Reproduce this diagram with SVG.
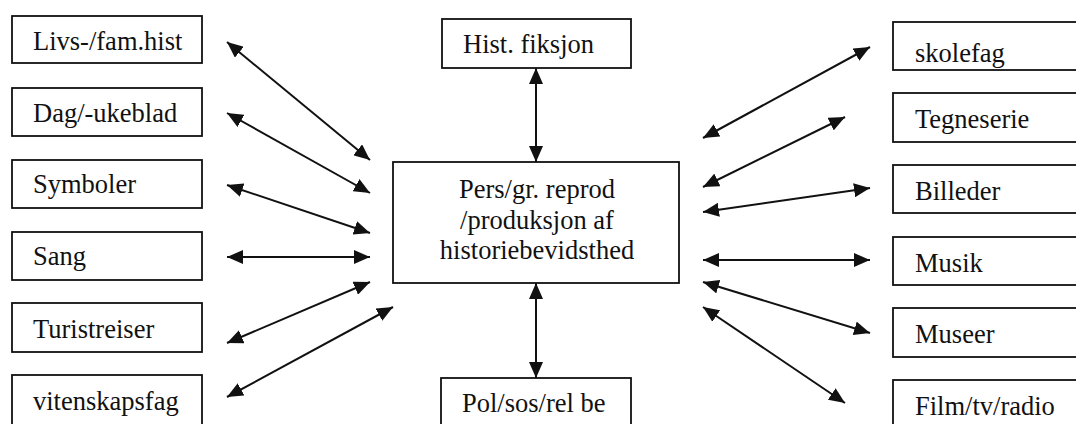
<svg xmlns="http://www.w3.org/2000/svg" width="1076" height="424" viewBox="0 0 1076 424">
<style>
.box{fill:#fff;stroke:#111;stroke-width:1.8}
.t{font-family:"Liberation Serif","Times New Roman",serif;font-size:26.5px;fill:#111}
.c{stroke:#111;stroke-width:2;fill:none;marker-start:url(#ah);marker-end:url(#ah)}
</style>
<defs>
<marker id="ah" markerUnits="userSpaceOnUse" markerWidth="16" markerHeight="14" refX="16" refY="7" orient="auto-start-reverse">
<path d="M0,0 L16,7 L0,14 z" fill="#111"/>
</marker>
</defs>
<rect width="1076" height="424" fill="#fff"/>
<g id="connectors">
<line class="c" x1="227" y1="42" x2="370" y2="160"/>
<line class="c" x1="227" y1="113" x2="370" y2="193"/>
<line class="c" x1="227" y1="185" x2="370" y2="233"/>
<line class="c" x1="227" y1="257" x2="370" y2="257"/>
<line class="c" x1="227" y1="343" x2="370" y2="282"/>
<line class="c" x1="227" y1="397" x2="393" y2="307"/>
<line class="c" x1="536" y1="68" x2="536" y2="162"/>
<line class="c" x1="536" y1="283" x2="536" y2="378"/>
<line class="c" x1="703" y1="138" x2="870" y2="47"/>
<line class="c" x1="703" y1="187" x2="845" y2="117"/>
<line class="c" x1="703" y1="212" x2="870" y2="188"/>
<line class="c" x1="703" y1="260" x2="870" y2="260"/>
<line class="c" x1="703" y1="282" x2="870" y2="333"/>
<line class="c" x1="703" y1="307" x2="845" y2="403"/>
</g>
<g id="livs"><rect class="box" x="12" y="16" width="190" height="47"/><text class="t" x="33" y="50">Livs-/fam.hist</text></g>
<g id="dag"><rect class="box" x="12" y="88" width="190" height="48"/><text class="t" x="33" y="122">Dag/-ukeblad</text></g>
<g id="symboler"><rect class="box" x="12" y="160" width="190" height="48"/><text class="t" x="33" y="193">Symboler</text></g>
<g id="sang"><rect class="box" x="12" y="232" width="190" height="48"/><text class="t" x="33" y="265">Sang</text></g>
<g id="turistreiser"><rect class="box" x="12" y="303" width="190" height="49"/><text class="t" x="33" y="338">Turistreiser</text></g>
<g id="vitenskapsfag"><rect class="box" x="12" y="375" width="190" height="60"/><text class="t" x="33" y="410">vitenskapsfag</text></g>
<g id="hist"><rect class="box" x="442" y="19" width="189" height="49"/><text class="t" x="463" y="53">Hist. fiksjon</text></g>
<g id="center"><rect class="box" x="393" y="162" width="286" height="121"/>
<text class="t" x="537" y="198" text-anchor="middle">Pers/gr. reprod</text>
<text class="t" x="537" y="229" text-anchor="middle">/produksjon af</text>
<text class="t" x="537" y="259" text-anchor="middle">historiebevidsthed</text></g>
<g id="pol"><rect class="box" x="441" y="378" width="190" height="60"/><text class="t" x="462" y="412">Pol/sos/rel be</text></g>
<g id="skolefag"><rect class="box" x="893" y="22" width="200" height="48"/><text class="t" x="915" y="62">skolefag</text></g>
<g id="tegneserie"><rect class="box" x="893" y="93" width="200" height="49"/><text class="t" x="915" y="128">Tegneserie</text></g>
<g id="billeder"><rect class="box" x="893" y="165" width="200" height="48"/><text class="t" x="915" y="200">Billeder</text></g>
<g id="musik"><rect class="box" x="893" y="237" width="200" height="48"/><text class="t" x="915" y="272">Musik</text></g>
<g id="museer"><rect class="box" x="893" y="308" width="200" height="49"/><text class="t" x="915" y="343">Museer</text></g>
<g id="film"><rect class="box" x="893" y="380" width="200" height="60"/><text class="t" x="915" y="415">Film/tv/radio</text></g>
</svg>
